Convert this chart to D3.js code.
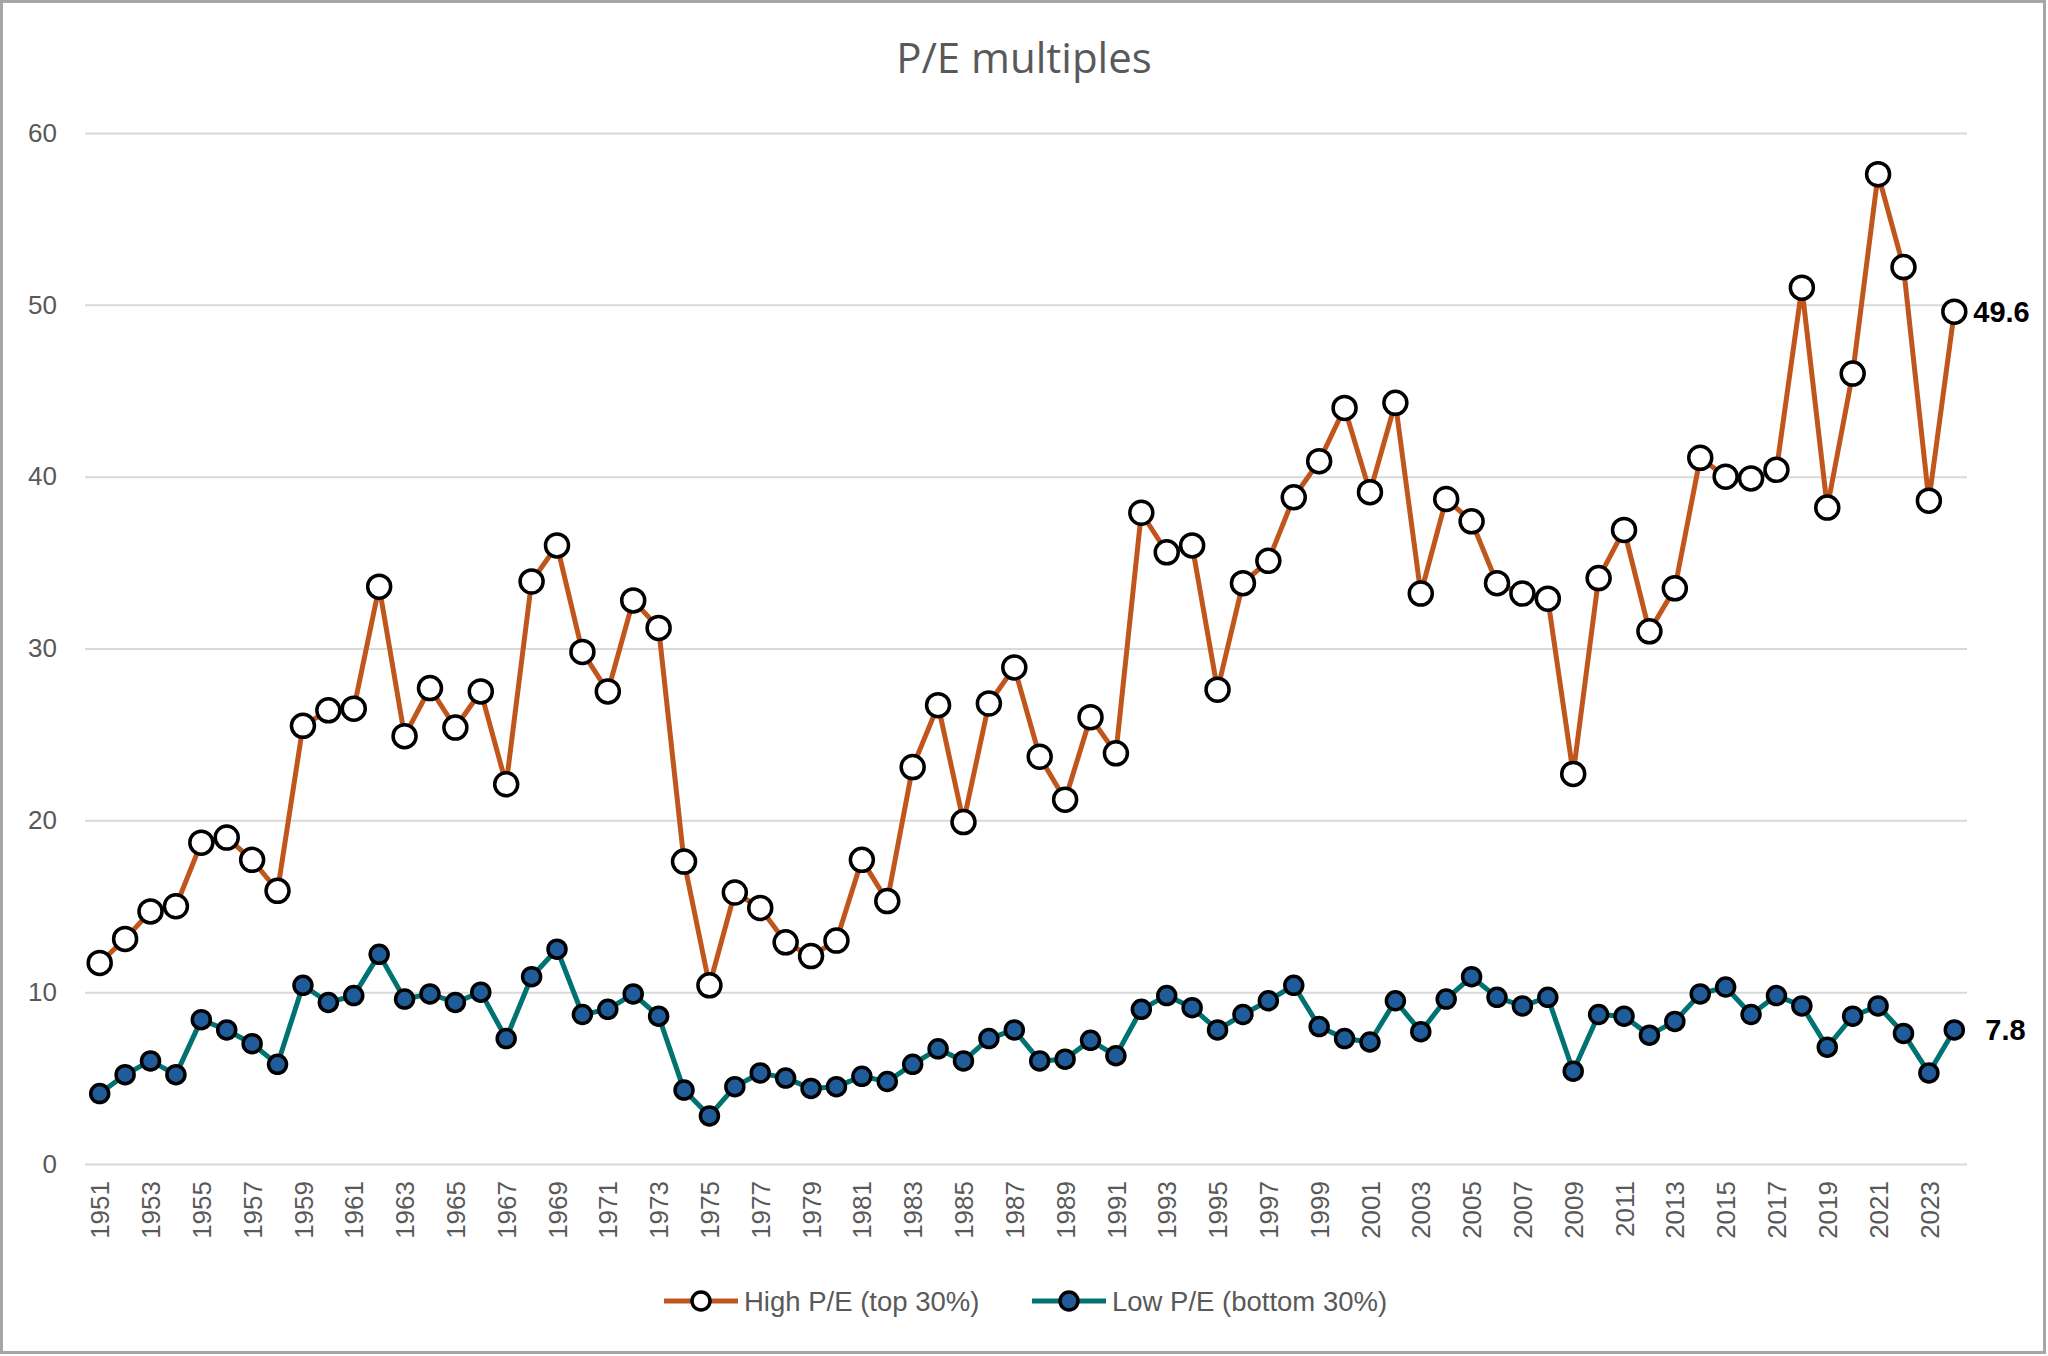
<!DOCTYPE html>
<html>
<head>
<meta charset="utf-8">
<script src="https://cdn.jsdelivr.net/npm/d3@7"></script>
<style>
  html, body { margin: 0; padding: 0; background: #fff; }
  svg { display: block; }
</style>
</head>
<body>
<svg id="chart" width="2048" height="1356"></svg>
<script>
// years on the x axis
var years = d3.range(1951, 2025);

// high P/E portfolio (top 30%)
var highPE = [11.7, 13.1, 14.7, 15.0, 18.7, 19.0, 17.7, 15.9, 25.5, 26.4,
              26.5, 33.6, 24.9, 27.7, 25.4, 27.5, 22.1, 33.9, 36.0, 29.8,
              27.5, 32.8, 31.2, 17.6, 10.4, 15.8, 14.9, 12.9, 12.1, 13.0,
              17.7, 15.3, 23.1, 26.7, 19.9, 26.8, 28.9, 23.7, 21.2, 26.0,
              23.9, 37.9, 35.6, 36.0, 27.6, 33.8, 35.1, 38.8, 40.9, 44.0,
              39.1, 44.3, 33.2, 38.7, 37.4, 33.8, 33.2, 32.9, 22.7, 34.1,
              36.9, 31.0, 33.5, 41.1, 40.0, 39.9, 40.4, 51.0, 38.2, 46.0,
              57.6, 52.2, 38.6, 49.6];

// low P/E portfolio (bottom 30%)
var lowPE = [4.1, 5.2, 6.0, 5.2, 8.4, 7.8, 7.0, 5.8, 10.4, 9.4,
             9.8, 12.2, 9.6, 9.9, 9.4, 10.0, 7.3, 10.9, 12.5, 8.7,
             9.0, 9.9, 8.6, 4.3, 2.8, 4.5, 5.3, 5.0, 4.4, 4.5,
             5.1, 4.8, 5.8, 6.7, 6.0, 7.3, 7.8, 6.0, 6.1, 7.2,
             6.3, 9.0, 9.8, 9.1, 7.8, 8.7, 9.5, 10.4, 8.0, 7.3,
             7.1, 9.5, 7.7, 9.6, 10.9, 9.7, 9.2, 9.7, 5.4, 8.7,
             8.6, 7.5, 8.3, 9.9, 10.3, 8.7, 9.8, 9.2, 6.8, 8.6,
             9.2, 7.6, 5.3, 7.8];

var yTicks = [0, 10, 20, 30, 40, 50, 60];
var xTickYears = years.filter(function(y){ return y % 2 == 1; });
var seriesNames = ["High P/E (top 30%)", "Low P/E (bottom 30%)"];

var color = {
  high: "#c0561c",
  low: "#007272",
  lowDot: "#1f5c99",
  grid: "#d9d9d9",
  text: "#595959"
};

var svg = d3.select("#chart");
var fontMain = "'Liberation Sans', Arial, sans-serif";

// outer frame
svg.append("rect")
  .attr("x", 1.5).attr("y", 1.5)
  .attr("width", 2043).attr("height", 1351)
  .attr("fill", "#fff")
  .attr("stroke", "#a6a6a6")
  .attr("stroke-width", 3);

var x = d3.scalePoint().domain(years).range([87, 1967]).padding(0.5);
var y = d3.scaleLinear().domain([0, 60]).range([1164, 133]);

// title
svg.append("text")
  .attr("x", 1024).attr("y", 73)
  .attr("text-anchor", "middle")
  .attr("fill", color.text)
  .style("font-family", "'Open Sans', 'Noto Sans', sans-serif")
  .style("font-size", "42px")
  .text("P/E multiples");

// gridlines + y labels
var yAxis = d3.axisLeft(y).tickValues(yTicks).tickSize(-(1967 - 85)).tickPadding(28);
var gy = svg.append("g").attr("transform", "translate(85,0)").call(yAxis);
gy.select(".domain").remove();
gy.selectAll(".tick line").attr("stroke", color.grid).attr("stroke-width", 2);
gy.selectAll(".tick text")
  .attr("fill", color.text)
  .style("font-family", fontMain)
  .style("font-size", "26px");

// x labels (rotated)
var xAxis = d3.axisBottom(x).tickValues(xTickYears).tickSize(0).tickPadding(0);
var gx = svg.append("g").attr("transform", "translate(0,1164)").call(xAxis);
gx.select(".domain").remove();
gx.selectAll(".tick text")
  .attr("fill", color.text)
  .style("font-family", fontMain)
  .style("font-size", "26px")
  .attr("text-anchor", "end")
  .attr("transform", "translate(0,17) rotate(-90)")
  .attr("x", 0).attr("y", 0)
  .attr("dy", "0.35em");

function drawSeries(vals, lineColor, dotFill, r, sw) {
  var line = d3.line()
    .x(function(d, i){ return x(years[i]); })
    .y(function(d){ return y(d); });
  svg.append("path")
    .datum(vals)
    .attr("fill", "none")
    .attr("stroke", lineColor)
    .attr("stroke-width", 5)
    .attr("stroke-linejoin", "round")
    .attr("d", line);
  svg.append("g").selectAll("circle")
    .data(vals)
    .enter().append("circle")
    .attr("cx", function(d, i){ return x(years[i]); })
    .attr("cy", function(d){ return y(d); })
    .attr("r", r)
    .attr("fill", dotFill)
    .attr("stroke", "#000")
    .attr("stroke-width", sw);
}

drawSeries(highPE, color.high, "#fff", 11.5, 3.5);
drawSeries(lowPE, color.low, color.lowDot, 9, 3.5);

// end labels
var last = years.length - 1;
svg.append("text")
  .attr("x", x(years[last]) + 19).attr("y", y(highPE[last]))
  .attr("dy", "0.35em")
  .style("font-family", fontMain).style("font-size", "29px").style("font-weight", "bold")
  .attr("fill", "#000")
  .text(highPE[last].toFixed(1));
svg.append("text")
  .attr("x", x(years[last]) + 31).attr("y", y(lowPE[last]))
  .attr("dy", "0.35em")
  .style("font-family", fontMain).style("font-size", "29px").style("font-weight", "bold")
  .attr("fill", "#000")
  .text(lowPE[last].toFixed(1));

// legend
var legend = [
  {name: seriesNames[0], x0: 664, line: color.high, fill: "#fff", r: 9},
  {name: seriesNames[1], x0: 1032, line: color.low, fill: color.lowDot, r: 9}
];
var lg = svg.append("g").selectAll("g").data(legend).enter().append("g")
  .attr("transform", function(d){ return "translate(" + d.x0 + ",1301)"; });
lg.append("line")
  .attr("x1", 0).attr("x2", 74).attr("y1", 0).attr("y2", 0)
  .attr("stroke", function(d){ return d.line; })
  .attr("stroke-width", 5);
lg.append("circle")
  .attr("cx", 37).attr("cy", 0)
  .attr("r", function(d){ return d.r; })
  .attr("fill", function(d){ return d.fill; })
  .attr("stroke", "#000").attr("stroke-width", 3.5);
lg.append("text")
  .attr("x", 80).attr("y", 0).attr("dy", "0.35em")
  .attr("fill", color.text)
  .style("font-family", fontMain)
  .style("font-size", "27.5px")
  .text(function(d){ return d.name; });
</script>
</body>
</html>
